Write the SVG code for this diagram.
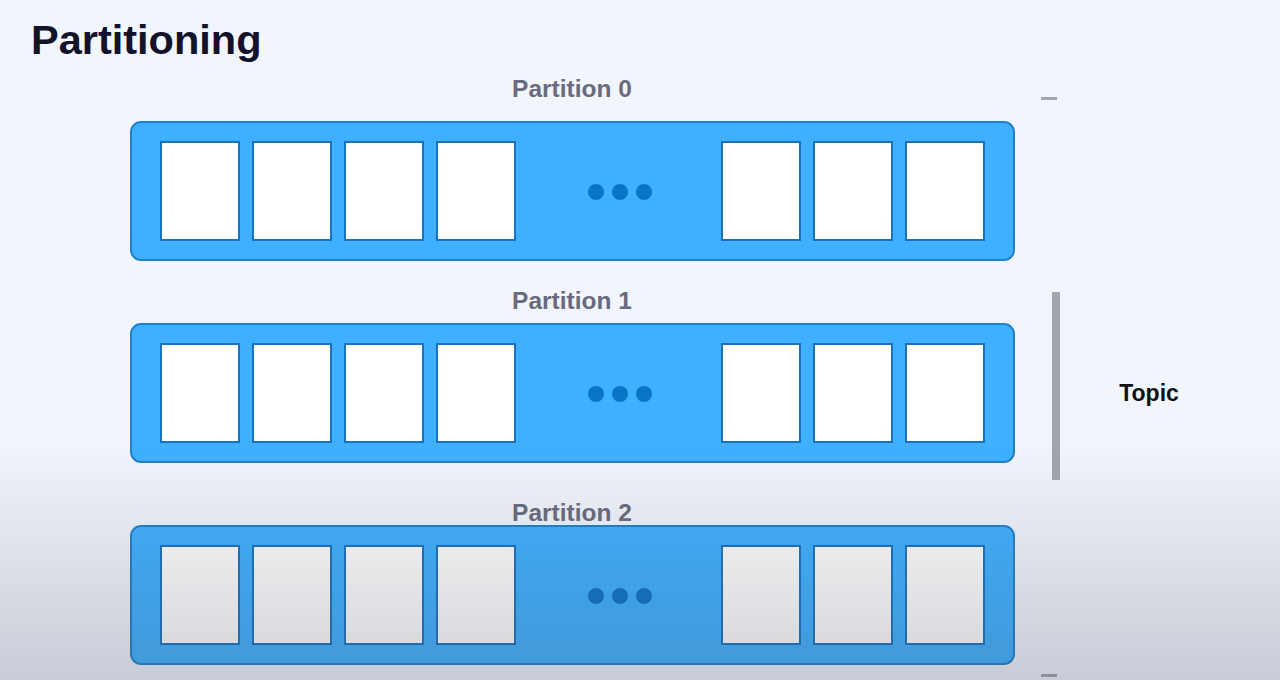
<svg xmlns="http://www.w3.org/2000/svg" width="1280" height="680" viewBox="0 0 1280 680">
<style>
.title{font-family:"Liberation Sans",Arial,sans-serif;font-weight:bold;font-size:41.5px;fill:#12122a}
.plabel{font-family:"Liberation Sans",Arial,sans-serif;font-weight:bold;font-size:24.5px;fill:#6a6a7e;text-anchor:middle}
.topic{font-family:"Liberation Sans",Arial,sans-serif;font-weight:bold;font-size:23px;fill:#111;text-anchor:middle}
.part{fill:#3fb0ff;stroke:#1f80cc;stroke-width:2}
.cell{fill:#ffffff;stroke:#1a72bd;stroke-width:2}
.dot{fill:#0a74c6}
.bar{fill:#a3a5ab}
</style>
<defs>
<linearGradient id="shade" x1="0" y1="0" x2="0" y2="1">
<stop offset="0" stop-color="#4a5060" stop-opacity="0"/>
<stop offset="1" stop-color="#4a5060" stop-opacity="0.25"/>
</linearGradient>
<g id="cells">
<rect class="part" x="131" y="0" width="883" height="138" rx="10"/>
<rect class="cell" x="161" y="20" width="78" height="98"/>
<rect class="cell" x="253" y="20" width="78" height="98"/>
<rect class="cell" x="345" y="20" width="78" height="98"/>
<rect class="cell" x="437" y="20" width="78" height="98"/>
<circle class="dot" cx="596" cy="70" r="8"/>
<circle class="dot" cx="620" cy="70" r="8"/>
<circle class="dot" cx="644" cy="70" r="8"/>
<rect class="cell" x="722" y="20" width="78" height="98"/>
<rect class="cell" x="814" y="20" width="78" height="98"/>
<rect class="cell" x="906" y="20" width="78" height="98"/>
</g>
</defs>
<rect x="0" y="0" width="1280" height="680" fill="#f1f5fd"/>
<text class="title" x="31" y="54">Partitioning</text>
<g id="partition0">
<text class="plabel" x="572" y="97">Partition 0</text>
<use href="#cells" y="122"/>
</g>
<g id="partition1">
<text class="plabel" x="572" y="309">Partition 1</text>
<use href="#cells" y="324"/>
</g>
<g id="partition2">
<text class="plabel" x="572" y="521">Partition 2</text>
<use href="#cells" y="526"/>
</g>
<g id="topic">
<rect class="bar" x="1041" y="97" width="16" height="3"/>
<rect class="bar" x="1052" y="292" width="8" height="188"/>
<rect class="bar" x="1041" y="674" width="16" height="3"/>
<text class="topic" x="1149" y="401">Topic</text>
</g>
<g id="connectors"></g>
<rect x="0" y="440" width="1280" height="240" fill="url(#shade)"/>
</svg>
